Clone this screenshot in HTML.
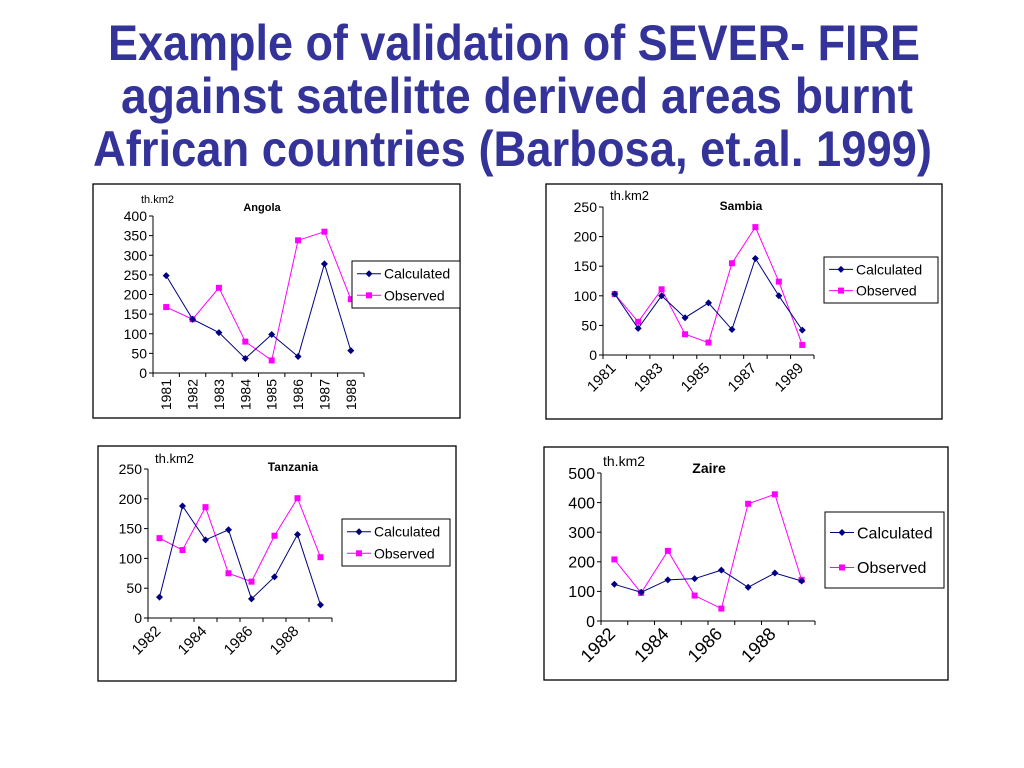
<!DOCTYPE html>
<html><head><meta charset="utf-8"><style>
html,body{margin:0;padding:0;background:#fff;}
svg{display:block;font-family:"Liberation Sans",Arial,sans-serif;}
</style></head><body>
<svg id="s" width="1024" height="768" viewBox="0 0 1024 768">
<g fill="#333399" font-weight="bold" font-size="50">
<text x="108" y="60" textLength="812" lengthAdjust="spacingAndGlyphs">Example of validation of SEVER- FIRE</text>
<text x="121" y="113" textLength="792" lengthAdjust="spacingAndGlyphs">against satelitte derived areas burnt</text>
<text x="93" y="166" textLength="839" lengthAdjust="spacingAndGlyphs">African countries (Barbosa, et.al. 1999)</text>
</g>
</svg>
<script>
const angolaYears=["1981","1982","1983","1984","1985","1986","1987","1988"];
const angolaCalc=[248,137,103,37,98,42,278,57];
const angolaObs=[168,137,217,80,32,338,360,188];
const angolaTicks=[0,50,100,150,200,250,300,350,400];
const sambiaYears=["1981","1982","1983","1984","1985","1986","1987","1988","1989"];
const sambiaCalc=[103,45,100,63,88,43,163,100,42];
const sambiaObs=[103,56,111,35,21,155,216,124,17];
const sambiaTicks=[0,50,100,150,200,250];
const tanzaniaYears=["1982","1983","1984","1985","1986","1987","1988","1989"];
const tanzaniaCalc=[35,188,131,148,32,69,140,22];
const tanzaniaObs=[134,114,186,75,61,138,201,102];
const tanzaniaTicks=[0,50,100,150,200,250];
const zaireYears=["1982","1983","1984","1985","1986","1987","1988","1989"];
const zaireCalc=[124,97,139,143,172,114,162,135];
const zaireObs=[208,95,237,86,42,396,428,139];
const zaireTicks=[0,100,200,300,400,500];

const NS="http://www.w3.org/2000/svg";
const svg=document.getElementById('s');
function el(tag,attrs,parent,text){const e=document.createElementNS(NS,tag);for(const k in attrs)e.setAttribute(k,attrs[k]);if(text!==undefined)e.textContent=text;(parent||svg).appendChild(e);return e;}

function chart(c){
  const g=el('g',{});
  
  
  const box=el('rect',{x:c.box[0],y:c.box[1],width:c.box[2],height:c.box[3],fill:'#fff',stroke:'#000','stroke-width':1.3},g);
  
  
  const n=c.years.length, max=c.ticks[c.ticks.length-1];
  const cw=(c.x1-c.x0)/n;
  const X=i=>c.x0+cw*(i+0.5);
  const Y=v=>c.y0-(v/max)*(c.y0-c.yTop);
  const ya=el('line',{x1:c.x0,y1:c.yTop,x2:c.x0,y2:c.y0,stroke:'#000'},g);
  
  
  c.ticks.forEach(t=>{
    el('line',{x1:c.x0-4,y1:Y(t),x2:c.x0,y2:Y(t),stroke:'#000'},g);
    const tl=el('text',{x:c.x0-6,y:Y(t)+c.fs*0.36,'text-anchor':'end','font-size':c.fs},g,String(t));
    
    
  });
  const xa=el('line',{x1:c.x0,y1:c.y0,x2:c.x1,y2:c.y0,stroke:'#000'},g);
  
  
  for(let i=0;i<=n;i++){const x=c.x0+cw*i;el('line',{x1:x,y1:c.y0,x2:x,y2:c.y0+4,stroke:'#000'},g);}
  c.years.forEach((yr,i)=>{
    if(i%c.step) return;
    let t;
    if(c.rot===90){
      t=el('text',{x:0,y:0,'text-anchor':'end','font-size':c.xfs,transform:`translate(${X(i)+c.xfs*0.36},${c.y0+6}) rotate(-90)`},g,yr);
    } else {
      t=el('text',{x:0,y:0,'text-anchor':'end','font-size':c.xfs,transform:`translate(${X(i)+2},${c.y0+14}) rotate(-45)`},g,yr);
    }
    
    
  });
  const ul=el('text',{x:c.unit[0],y:c.unit[1],'font-size':c.ufs},g,'th.km2');
  
  
  const tt=el('text',{x:c.title[0],y:c.title[1],'font-size':c.tfs,'font-weight':'bold','text-anchor':'middle'},g,c.label);
  
  
  const series=[[c.obs,'#ff00ff','sq','observed'],[c.calc,'#000080','dia','calculated']];
  series.forEach(([vals,col,mk,nm])=>{
    const ln=el('polyline',{points:vals.map((v,i)=>X(i)+','+Y(v)).join(' '),fill:'none',stroke:col,'stroke-width':1},g);
    
    
    vals.forEach((v,i)=>{
      let m;
      if(mk==='sq') m=el('rect',{x:X(i)-3,y:Y(v)-3,width:6,height:6,fill:col},g);
      else m=el('polygon',{points:`${X(i)},${Y(v)-3.5} ${X(i)+3.5},${Y(v)} ${X(i)},${Y(v)+3.5} ${X(i)-3.5},${Y(v)}`,fill:col},g);
      
      
    });
  });
  const [lx,ly,lw,lh]=c.legend;
  const lg=el('g',{},g);
  
  
  el('rect',{x:lx,y:ly,width:lw,height:lh,fill:'#fff',stroke:'#000'},lg);
  [['Calculated','#000080','dia'],['Observed','#ff00ff','sq']].forEach(([txt,col,mk],k)=>{
    const cy=ly+lh*(k===0?0.27:0.73);
    el('line',{x1:lx+5,y1:cy,x2:lx+29,y2:cy,stroke:col},lg);
    if(mk==='sq') el('rect',{x:lx+14,y:cy-3,width:6,height:6,fill:col},lg);
    else el('polygon',{points:`${lx+17},${cy-3.5} ${lx+20.5},${cy} ${lx+17},${cy+3.5} ${lx+13.5},${cy}`,fill:col},lg);
    const le=el('text',{x:lx+32,y:cy+c.lfs*0.36,'font-size':c.lfs},lg,txt);
    
    
  });
}
chart({name:'angola',label:'Angola',years:angolaYears,calc:angolaCalc,obs:angolaObs,ticks:angolaTicks,
  box:[93,184,367,234],x0:153,x1:364,yTop:216,y0:373,fs:14,xfs:14,ufs:11,tfs:11,lfs:14,rot:90,step:1,
  unit:[141,203],title:[262,211],legend:[352,261,108,47]});
chart({name:'sambia',label:'Sambia',years:sambiaYears,calc:sambiaCalc,obs:sambiaObs,ticks:sambiaTicks,
  box:[546,184,396,235],x0:603,x1:814,yTop:207,y0:355,fs:14,xfs:15,ufs:13,tfs:12,lfs:14,rot:45,step:2,
  unit:[610,200],title:[741,210],legend:[824,257,114,46]});
chart({name:'tanzania',label:'Tanzania',years:tanzaniaYears,calc:tanzaniaCalc,obs:tanzaniaObs,ticks:tanzaniaTicks,
  box:[98,446,358,235],x0:148,x1:332,yTop:469,y0:618,fs:14,xfs:15,ufs:13,tfs:12,lfs:14,rot:45,step:2,
  unit:[155,463],title:[293,471],legend:[342,519,108,47]});
chart({name:'zaire',label:'Zaire',years:zaireYears,calc:zaireCalc,obs:zaireObs,ticks:zaireTicks,
  box:[544,447,404,233],x0:601,x1:815,yTop:473,y0:621,fs:16,xfs:18,ufs:14,tfs:14,lfs:16,rot:45,step:2,
  unit:[603,466],title:[709,473],legend:[825,512,119,76]});
</script>
</body></html>
